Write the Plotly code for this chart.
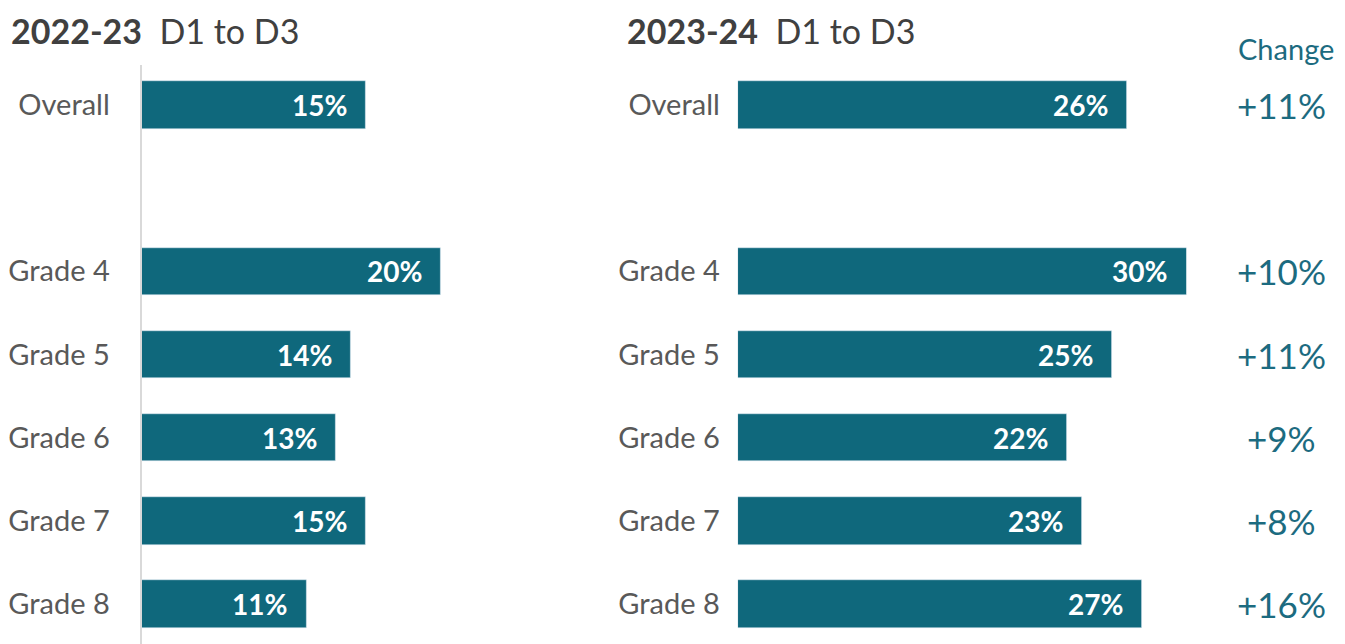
import plotly.graph_objects as go

categories = ["Overall", "Grade 4", "Grade 5", "Grade 6", "Grade 7", "Grade 8"]
positions = [0, 2, 3, 4, 5, 6]
values_2223 = [15, 20, 14, 13, 15, 11]
values_2324 = [26, 30, 25, 22, 23, 27]
changes = [b - a for a, b in zip(values_2223, values_2324)]

W, H = 1345, 644
OX, OY = 8, 8  # page body offset
BAR = "#0F687C"
LABEL = "#595959"
TEAL = "#1C6B80"
FONT = "Lato"
px_per = 15.0


def px(x):
    return (x - OX) / W


def py(y):
    return 1 - (y - OY) / H


fig = go.Figure()
fig.add_trace(go.Bar(x=values_2223, y=positions, orientation="h", marker_color=BAR,
                     width=0.57, xaxis="x", yaxis="y", hoverinfo="skip"))
fig.add_trace(go.Bar(x=values_2324, y=positions, orientation="h", marker_color=BAR,
                     width=0.57, xaxis="x2", yaxis="y2", hoverinfo="skip"))

annotations = []
for v, p in zip(values_2223, positions):
    annotations.append(dict(x=v, y=p, xref="x", yref="y", text=f"<b>{v}%</b>", showarrow=False,
                            xanchor="right", xshift=-17, font=dict(family=FONT, size=28, color="white")))
for v, p in zip(values_2324, positions):
    annotations.append(dict(x=v, y=p, xref="x2", yref="y2", text=f"<b>{v}%</b>", showarrow=False,
                            xanchor="right", xshift=-17, font=dict(family=FONT, size=28, color="white")))
for c, p in zip(changes, positions):
    annotations.append(dict(x=px(1281), y=p, xref="paper", yref="y2", text=f"+{c}%", showarrow=False,
                            xanchor="center", font=dict(family=FONT, size=35, color=TEAL)))
annotations.append(dict(x=px(1286), y=py(48), xref="paper", yref="paper", text="Change", showarrow=False,
                        xanchor="center", yanchor="middle", font=dict(family=FONT, size=29, color=TEAL)))
annotations.append(dict(x=px(5), y=1, xref="paper", yref="paper",
                        text="<b>2022-23</b>\u00a0 D1 to D3", showarrow=False, xanchor="left", yanchor="top",
                        font=dict(family=FONT, size=34, color="#404040")))
annotations.append(dict(x=px(623), y=1, xref="paper", yref="paper",
                        text="<b>2023-24</b>\u00a0 D1 to D3", showarrow=False, xanchor="left", yanchor="top",
                        font=dict(family=FONT, size=34, color="#404040")))

left0, right0 = 138, 736
rng = 30
ytop = 65
ybot = H + OY
row = (604 - 105) / 6
r0 = -(105 - ytop) / row
r1 = r0 + (ybot - ytop) / row

yax = dict(range=[r1, r0], tickvals=positions, ticktext=categories, showgrid=False, zeroline=False,
           tickfont=dict(family=FONT, size=29, color=LABEL), domain=[0, py(ytop)], fixedrange=True)

fig.update_layout(
    width=W, height=H, margin=dict(l=0, r=0, t=0, b=0),
    paper_bgcolor="white", plot_bgcolor="white", showlegend=False, bargap=0,
    xaxis=dict(domain=[px(left0), px(left0 + rng * px_per)], range=[0, rng], visible=False, anchor="y"),
    xaxis2=dict(domain=[px(right0), px(right0 + rng * px_per)], range=[0, rng], visible=False, anchor="y2"),
    yaxis=dict(**yax, anchor="x", showline=True, linecolor="#D9D9D9", linewidth=2, ticklabelstandoff=24),
    yaxis2=dict(**yax, anchor="x2", showline=False, ticklabelstandoff=17),
    annotations=annotations,
)

fig.write_html("out.html")
